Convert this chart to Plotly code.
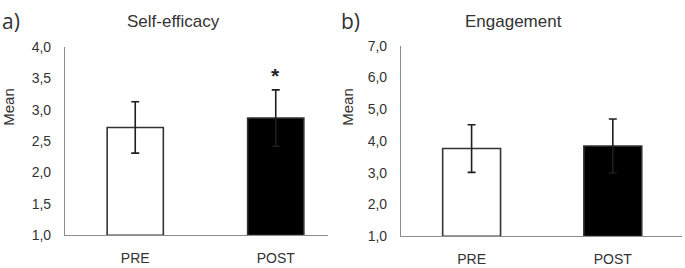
import plotly.graph_objects as go

categories = ["PRE", "POST"]
self_eff_mean = [2.72, 2.87]
self_eff_sd = [0.41, 0.45]
engage_mean = [3.76, 3.84]
engage_sd = [0.75, 0.85]
bar_colors = ["white", "black"]

a_ticks = [1.0, 1.5, 2.0, 2.5, 3.0, 3.5, 4.0]
a_ticklabels = ["1,0", "1,5", "2,0", "2,5", "3,0", "3,5", "4,0"]
b_ticks = [1, 2, 3, 4, 5, 6, 7]
b_ticklabels = ["1,0", "2,0", "3,0", "4,0", "5,0", "6,0", "7,0"]

W, H = 685, 268
TXT = "#333333"
AX = "#8c8c8c"
FONT = "Liberation Sans, Arial, sans-serif"

def px_x(p):
    return p / W

def px_y(p):
    return 1 - p / H

fig = go.Figure()

err_style = dict(type="data", visible=True, color="#1e1e1e", thickness=1.6, width=4)

fig.add_trace(go.Bar(
    x=categories, y=[m - 1 for m in self_eff_mean], base=1,
    marker=dict(color=bar_colors, line=dict(color="#333333", width=1.6)),
    error_y=dict(array=self_eff_sd, **err_style),
    width=0.4, xaxis="x", yaxis="y", showlegend=False, hoverinfo="skip",
))
fig.add_trace(go.Bar(
    x=categories, y=[m - 1 for m in engage_mean], base=1,
    marker=dict(color=bar_colors, line=dict(color="#333333", width=1.6)),
    error_y=dict(array=engage_sd, **err_style),
    width=0.41, xaxis="x2", yaxis="y2", showlegend=False, hoverinfo="skip",
))

common_x = dict(
    type="category", showline=True, linecolor=AX, linewidth=1.2, ticks="",
    showgrid=False, zeroline=False, ticklabelstandoff=10,
    tickfont=dict(family=FONT, size=14, color=TXT),
)
common_y = dict(
    showline=True, linecolor=AX, linewidth=1.2, ticks="", showgrid=False,
    zeroline=False, ticklabelstandoff=10,
    tickfont=dict(family=FONT, size=14, color=TXT),
)

fig.update_layout(
    width=W, height=H,
    margin=dict(l=0, r=0, t=0, b=0),
    paper_bgcolor="white", plot_bgcolor="white",
    xaxis=dict(domain=[px_x(65), px_x(328)], range=[-0.5, 1.372], anchor="y", **common_x),
    yaxis=dict(domain=[px_y(241.7), px_y(41.7)], range=[1, 4], tickvals=a_ticks,
               ticktext=a_ticklabels, anchor="x", **common_y),
    xaxis2=dict(domain=[px_x(401), px_x(682)], range=[-0.5, 1.49], anchor="y2", **common_x),
    yaxis2=dict(domain=[px_y(242.7), px_y(40)], range=[1, 7], tickvals=b_ticks,
                ticktext=b_ticklabels, anchor="x2", **common_y),
    bargap=0.6,
)

ann = []
ann.append(dict(text="Self-efficacy", x=px_x(174), y=px_y(14), xref="paper", yref="paper",
                showarrow=False, font=dict(family=FONT, size=17, color=TXT),
                xanchor="center", yanchor="middle"))
ann.append(dict(text="Engagement", x=px_x(513), y=px_y(14), xref="paper", yref="paper",
                showarrow=False, font=dict(family=FONT, size=17, color=TXT),
                xanchor="center", yanchor="middle"))
ann.append(dict(text="a)", x=0, y=px_y(14), xref="paper", yref="paper",
                showarrow=False, font=dict(family="Open Sans, sans-serif", size=21, color=TXT),
                xanchor="left", yanchor="middle"))
ann.append(dict(text="b)", x=px_x(339), y=px_y(14), xref="paper", yref="paper",
                showarrow=False, font=dict(family="Open Sans, sans-serif", size=21, color=TXT),
                xanchor="left", yanchor="middle"))
for xc in [9, 348]:
    ann.append(dict(text="Mean", x=px_x(xc), y=px_y(105), xref="paper", yref="paper",
                    showarrow=False, textangle=-90,
                    font=dict(family=FONT, size=15, color=TXT),
                    xanchor="center", yanchor="middle"))
ann.append(dict(text="<b>*</b>", x=categories[1], y=self_eff_mean[1] + self_eff_sd[1],
                xref="x", yref="y", showarrow=False, yanchor="bottom", yshift=1,
                font=dict(family=FONT, size=21, color="#222222")))
fig.update_layout(annotations=ann)

fig.write_html("out.html", config={"displayModeBar": False},
               post_script="document.body.style.margin='0';")
